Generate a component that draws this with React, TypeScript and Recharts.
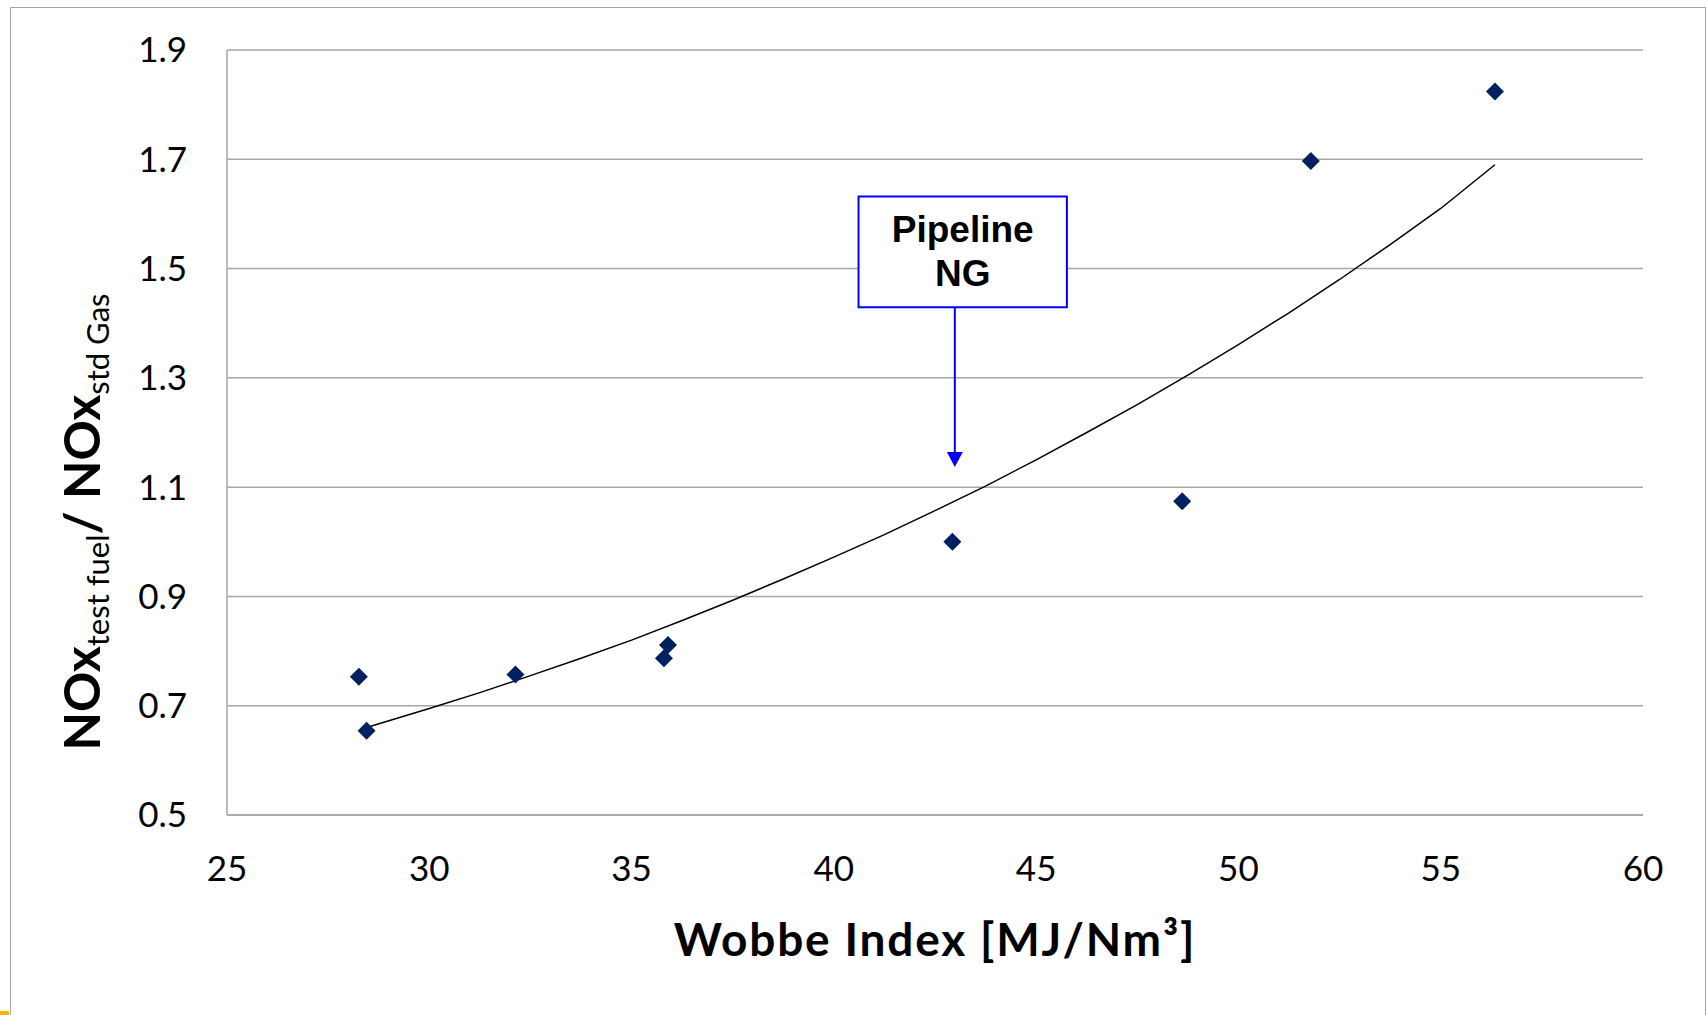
import React from 'react';
import {
  ComposedChart,
  Scatter,
  XAxis,
  YAxis,
  CartesianGrid,
  ReferenceArea,
  ReferenceLine,
  ReferenceDot,
} from 'recharts';

// measured points: Wobbe index vs NOx ratio
const wobbe = [28.26, 28.45, 32.13, 35.8, 35.9, 42.93, 48.61, 51.79, 56.34];
const noxRatio = [0.753, 0.654, 0.757, 0.787, 0.811, 1.0, 1.074, 1.697, 1.824];

// trend line
const trendX = [28.45, 30, 31.25, 32.5, 33.75, 35, 36.25, 37.5, 38.75, 40, 41.25, 42.5, 43.75, 45, 46.25, 47.5, 48.75, 50, 51.25, 52.5, 53.75, 55, 56.34];
const trendY = [0.66, 0.695, 0.724, 0.755, 0.787, 0.82, 0.856, 0.893, 0.932, 0.972, 1.013, 1.057, 1.102, 1.15, 1.2, 1.251, 1.305, 1.361, 1.419, 1.48, 1.544, 1.61, 1.69];

const xTicks = [25, 30, 35, 40, 45, 50, 55, 60];
const yTicks = [0.5, 0.7, 0.9, 1.1, 1.3, 1.5, 1.7, 1.9];

// annotation "Pipeline NG"
const boxX = [40.61, 45.76];
const boxY = [1.429, 1.632];
const arrowX = 42.99;
const arrowBaseY = 1.162;
const arrowTipY = 1.137;

const points = wobbe.map((x, i) => ({ x, y: noxRatio[i] }));
const trend = trendX.map((x, i) => ({ x, y: trendY[i] }));

const GRID = '#a6a6a6';
const BLUE = '#0000ff';

const Diamond = (props: any) => {
  const { cx, cy } = props;
  const r = 9;
  return (
    <polygon
      points={`${cx},${cy - r} ${cx + r},${cy} ${cx},${cy + r} ${cx - r},${cy}`}
      fill="#002060"
    />
  );
};

const NoDot = () => <g />;

const ArrowHead = (props: any) => {
  const { cx, cy } = props;
  return <polygon points={`${cx - 8},${cy - 15} ${cx + 8},${cy - 15} ${cx},${cy}`} fill={BLUE} />;
};

const BoxText = (props: any) => {
  const vb = props.viewBox;
  if (!vb) return null;
  const cx = vb.x + vb.width / 2;
  return (
    <text textAnchor="middle" fontFamily="'Liberation Sans', Arial, sans-serif" fontWeight="bold" fontSize={37} fill="#000">
      <tspan x={cx} y={vb.y + 46}>Pipeline</tspan>
      <tspan x={cx} y={vb.y + 90}>NG</tspan>
    </text>
  );
};

const XTitle = (props: any) => {
  const vb = props.viewBox;
  if (!vb) return null;
  return (
    <text x={vb.x + vb.width / 2} y={vb.y + 141} textAnchor="middle" fontFamily="Lato" fontWeight="bold" fontSize={46} letterSpacing={1.8} fill="#000">
      Wobbe Index [MJ/Nm³]
    </text>
  );
};

const YTitle = (props: any) => {
  const vb = props.viewBox;
  if (!vb) return null;
  const x = vb.x + 53;
  const y = 522;
  return (
    <text x={x} y={y} transform={`rotate(-90, ${x}, ${y})`} textAnchor="middle" fontFamily="Lato" fill="#000">
      <tspan fontWeight="bold" fontSize={50}>NOx</tspan>
      <tspan fontSize={31} dy={9}>test fuel</tspan>
      <tspan fontWeight="bold" fontSize={50} dy={-9}>/ NOx</tspan>
      <tspan fontSize={31} dy={9}>std Gas</tspan>
    </text>
  );
};

export default function App() {
  return (
    <div style={{ position: 'absolute', left: 0, top: 0, width: 1708, height: 1015, overflow: 'hidden', background: '#fff' }}>
      <div
        style={{
          position: 'absolute',
          left: 10,
          top: 7,
          width: 1696,
          height: 1100,
          border: '1.5px solid #a6a6a6',
          boxSizing: 'border-box',
        }}
      />
      <div style={{ position: 'absolute', left: 0, top: 1011, width: 9, height: 4, background: '#f5b800' }} />
      <div style={{ position: 'absolute', left: 0, top: 0 }}>
        <ComposedChart width={1708} height={1015} margin={{ top: 50, right: 65, bottom: 100, left: 47 }}>
          <CartesianGrid vertical={false} stroke={GRID} strokeWidth={1.5} />
          <XAxis
            type="number"
            dataKey="x"
            domain={[25, 60]}
            ticks={xTicks}
            allowDataOverflow
            height={100}
            axisLine={{ stroke: GRID, strokeWidth: 1.5 }}
            tickLine={false}
            tickSize={0}
            tickMargin={41}
            tick={{ fontFamily: 'Lato', fontSize: 35, fill: '#000' }}
            label={<XTitle />}
          />
          <YAxis
            type="number"
            dataKey="y"
            domain={[0.5, 1.9]}
            ticks={yTicks}
            allowDataOverflow
            width={180}
            axisLine={{ stroke: GRID, strokeWidth: 1.5 }}
            tickLine={false}
            tickSize={0}
            tickMargin={40}
            tickFormatter={(v: number) => v.toFixed(1)}
            tick={{ fontFamily: 'Lato', fontSize: 35, fill: '#000' }}
            label={<YTitle />}
          />
          <Scatter
            data={trend}
            line={{ stroke: '#000', strokeWidth: 1.5 }}
            lineType="joint"
            shape={<NoDot />}
            isAnimationActive={false}
          />
          <Scatter data={points} shape={<Diamond />} isAnimationActive={false} />
          <ReferenceLine
            segment={[
              { x: arrowX, y: boxY[0] },
              { x: arrowX, y: arrowBaseY },
            ]}
            stroke={BLUE}
            strokeWidth={2}
          />
          <ReferenceDot x={arrowX} y={arrowTipY} shape={<ArrowHead />} />
          <ReferenceArea
            x1={boxX[0]}
            x2={boxX[1]}
            y1={boxY[0]}
            y2={boxY[1]}
            fill="#fff"
            fillOpacity={1}
            stroke={BLUE}
            strokeWidth={2}
            label={<BoxText />}
          />
        </ComposedChart>
      </div>
    </div>
  );
}
